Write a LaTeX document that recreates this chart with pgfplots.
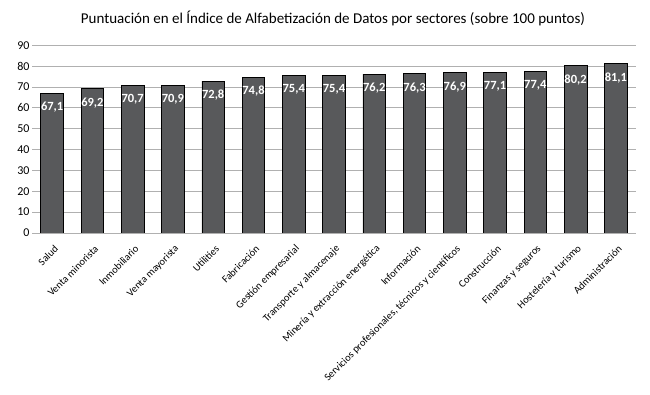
\documentclass[border=0pt]{standalone}
\usepackage{pgfplots}
\pgfplotsset{compat=1.18}
\usepackage{fontspec}
\setmainfont{Carlito}
\definecolor{barfill}{HTML}{58595B}
\definecolor{gridc}{HTML}{B0B0B0}
\begin{document}
\begin{tikzpicture}[x=1pt,y=1pt]
\useasboundingbox (0,0) rectangle (650,395);
\node[font=\fontsize{15}{17}\selectfont] at (333,377) {Puntuación en el Índice de Alfabetización de Datos por sectores (sobre 100 puntos)};
\begin{axis}[
  at={(32pt,162pt)}, anchor=south west,
  scale only axis, width=604pt, height=187.7pt,
  ymin=0, ymax=90, ytick={0,10,...,90},
  xmin=-0.5, xmax=14.5,
  xtick={0,...,14},
  xticklabels={Salud,Venta minorista,Inmobiliario,Venta mayorista,Utilities,Fabricación,Gestión empresarial,Transporte y almacenaje,Minería y extracción energética,Información,{Servicios profesionales, técnicos y científicos},Construcción,Finanzas y seguros,Hostelería y turismo,Administración},
  xticklabel style={rotate=45, anchor=east, font=\fontsize{10.4}{12}\selectfont, inner sep=1pt, xshift=-6pt, yshift=-13pt},
  yticklabel style={font=\fontsize{12}{13}\selectfont, xshift=1pt},
  /pgf/number format/assume math mode=true,
  major tick length=0pt,
  ymajorgrids, grid style={gridc, line width=0.8pt},
  axis line style={draw=none},
  axis x line*=bottom, axis y line*=left,
  ybar, bar width=22.6pt,
  nodes near coords={\pgfmathprintnumber[fixed,fixed zerofill,precision=1,use comma]{\pgfplotspointmeta}},
  nodes near coords style={font=\bfseries\fontsize{12.5}{13}\selectfont, text=white, anchor=north, yshift=-7pt, inner sep=1.5pt},
  point meta=explicit,
  clip=false,
]
\addplot[fill=barfill, draw=black, line width=0.8pt] coordinates {
(0,67.1) [67.1] (1,69.2) [69.2] (2,70.7) [70.7] (3,70.9) [70.9] (4,72.8) [72.8]
(5,74.8) [74.8] (6,75.4) [75.4] (7,75.4) [75.4] (8,76.2) [76.2] (9,76.3) [76.3]
(10,76.9) [76.9] (11,77.1) [77.1] (12,77.4) [77.4] (13,80.2) [80.2] (14,81.1) [81.1]
};
\draw[gridc, line width=0.8pt] (axis cs:-0.5,0) -- (axis cs:14.5,0);
\end{axis}
\end{tikzpicture}
\end{document}
